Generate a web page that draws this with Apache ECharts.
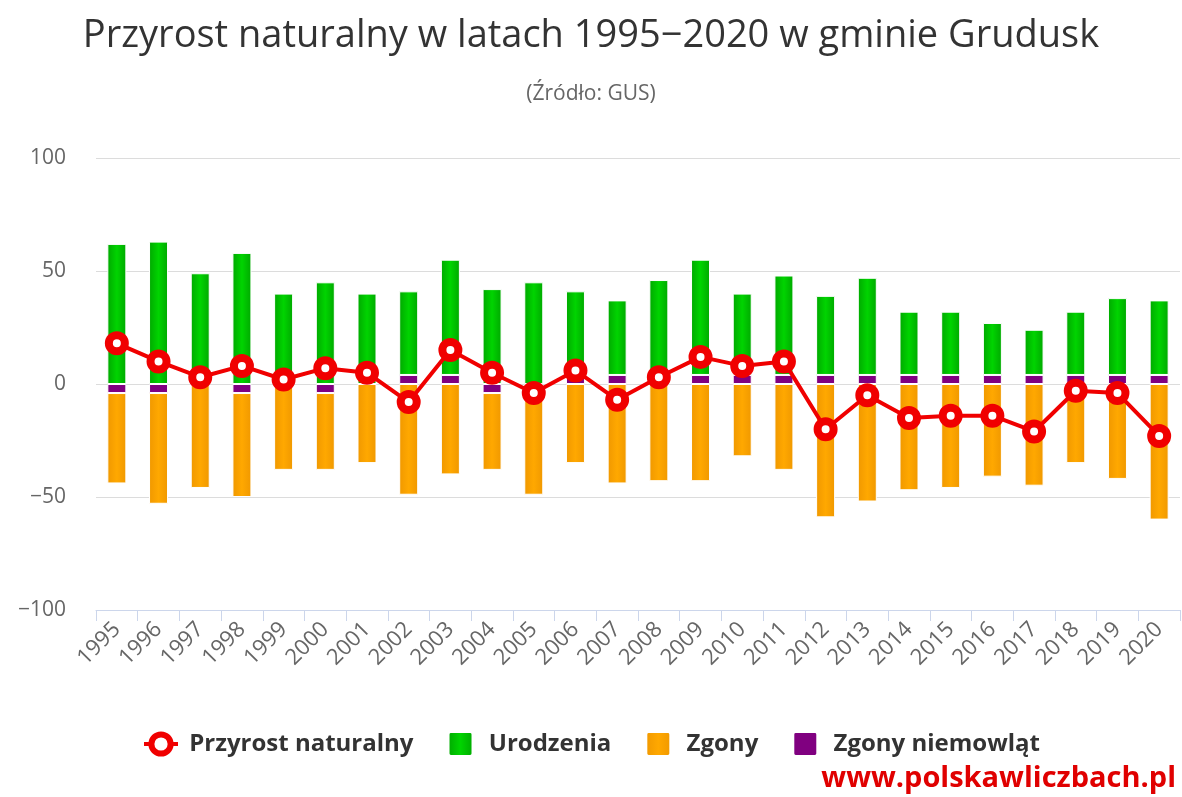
<!DOCTYPE html>
<html>
<head>
<meta charset="utf-8">
<script src="https://cdn.jsdelivr.net/npm/echarts@6/dist/echarts.min.js"></script>
<style>
html,body{margin:0;padding:0;background:#fff;}
#chart{width:1182px;height:797px;}
</style>
</head>
<body>
<div id="chart"></div>
<script>
const years = ['1995','1996','1997','1998','1999','2000','2001','2002','2003','2004','2005','2006','2007','2008','2009','2010','2011','2012','2013','2014','2015','2016','2017','2018','2019','2020'];
// top of green bar
const urodzenia = [62,63,49,58,40,45,40,41,55,42,45,41,37,46,55,40,48,39,47,32,32,27,24,32,38,37];
// bottom of orange bar (negative)
const zgony = [-44,-53,-46,-50,-38,-38,-35,-49,-40,-38,-49,-35,-44,-43,-43,-32,-38,-59,-52,-47,-46,-41,-45,-35,-42,-60];
const przyrost = [18,10,3,8,2,7,5,-8,15,5,-4,6,-7,3,12,8,10,-20,-5,-15,-14,-14,-21,-3,-4,-23];
const zgonyNiemowlat = [-4,-4,null,-4,null,-4,null,4,4,-4,null,4,4,4,4,4,4,4,4,4,4,4,4,4,4,4];

// stacked segments built from the arrays above
const greenSeg = urodzenia.map((v,i)=> v - (zgonyNiemowlat[i] > 0 ? zgonyNiemowlat[i] : 0));
const orangeSeg = zgony.map((v,i)=> v - (zgonyNiemowlat[i] < 0 ? zgonyNiemowlat[i] : 0));

const chart = echarts.init(document.getElementById('chart'));
const grad = (edge, mid) => new echarts.graphic.LinearGradient(0,0,1,0,[
  {offset:0,color:edge},{offset:0.5,color:mid},{offset:1,color:edge}]);
const FONT = 'Open Sans';
const RED = '#f00000';
const SQUARE = 'path://M1,0H9Q10,0 10,1V9Q10,10 9,10H1Q0,10 0,9V1Q0,0 1,0Z';
chart.setOption({
  animation:false,
  backgroundColor:'#fff',
  title:{
    text:'Przyrost naturalny w latach 1995\u22122020 w gminie Grudusk',
    subtext:'(\u0179r\u00f3d\u0142o: GUS)',
    left:'center', top:12, itemGap:29,
    textStyle:{fontFamily:FONT,fontSize:38,fontWeight:'normal',color:'#333'},
    subtextStyle:{fontFamily:FONT,fontSize:21,color:'#666'}
  },
  legend:{
    data:[
      {name:'Przyrost naturalny',itemStyle:{color:'#fff',borderColor:RED,borderWidth:6},lineStyle:{color:RED,width:4}},
      {name:'Urodzenia',icon:SQUARE},
      {name:'Zgony',icon:SQUARE},
      {name:'Zgony niemowl\u0105t',icon:SQUARE}],
    top:726, left:'center', itemGap:34, itemWidth:34, itemHeight:24,
    formatter:n=>' '+n,
    textStyle:{fontFamily:FONT,fontSize:24,fontWeight:'bold',color:'#333'}
  },
  graphic:[{
    type:'text', right:6, bottom:4,
    style:{text:'www.polskawliczbach.pl', fill:'#e00000', font:'bold 29px "Open Sans"'}
  }],
  grid:{left:96,right:2,top:158,bottom:187,containLabel:false},
  xAxis:{
    type:'category', data:years, boundaryGap:true,
    axisLine:{onZero:false,lineStyle:{color:'#ccd6eb',width:1}},
    axisTick:{show:true,alignWithLabel:false,length:11,lineStyle:{color:'#ccd6eb'}},
    axisLabel:{rotate:45,fontFamily:FONT,fontSize:22,color:'#666',margin:16,interval:0}
  },
  yAxis:{
    type:'value', min:-100, max:100, interval:50,
    axisLine:{show:false}, axisTick:{show:false},
    splitLine:{lineStyle:{color:'#dcdcdc',width:1}},
    axisLabel:{fontFamily:FONT,fontSize:21,color:'#666',margin:30,
      formatter:v=>String(v).replace('-','\u2212')}
  },
  series:[
    {name:'Zgony niemowl\u0105t',type:'bar',stack:'s',data:zgonyNiemowlat,barWidth:19,
      itemStyle:{color:'#800080',borderColor:'#fff',borderWidth:1}},
    {name:'Urodzenia',type:'bar',stack:'s',data:greenSeg,barWidth:19,
      itemStyle:{color:grad('#00a800','#00d400'),borderColor:'#fff',borderWidth:1}},
    {name:'Zgony',type:'bar',stack:'s',data:orangeSeg,barWidth:19,
      itemStyle:{color:grad('#f09800','#ffa800'),borderColor:'#fff',borderWidth:1}},
    {name:'Przyrost naturalny',type:'line',data:przyrost,z:5,
      symbol:'circle',symbolSize:16,
      lineStyle:{color:RED,width:4},
      itemStyle:{color:'#fff',borderColor:RED,borderWidth:8}}
  ]
});
</script>
</body>
</html>
